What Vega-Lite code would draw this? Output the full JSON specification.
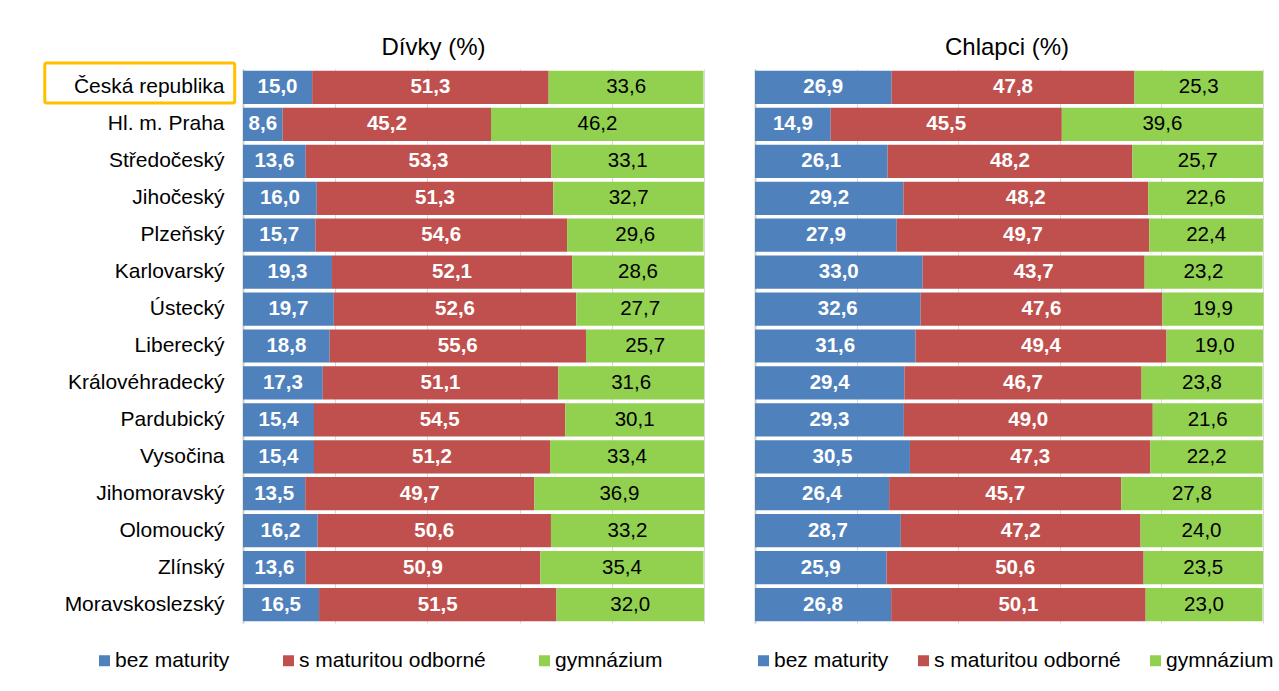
{
  "$schema": "https://vega.github.io/schema/vega-lite/v6.json",
  "padding": {"left": 43, "top": 35, "right": 5, "bottom": 5},
  "spacing": 48,
  "config": {
    "font": "Liberation Sans",
    "view": {"stroke": null},
    "locale": {"number": {"decimal": ",", "thousands": " ", "grouping": [3], "currency": ["", ""]}}
  },
  "datasets": {
    "t": [
      {"r": "Česká republika", "p": "D", "bez maturity": 15.0, "s maturitou odborné": 51.3, "gymnázium": 33.6},
      {"r": "Hl. m. Praha", "p": "D", "bez maturity": 8.6, "s maturitou odborné": 45.2, "gymnázium": 46.2},
      {"r": "Středočeský", "p": "D", "bez maturity": 13.6, "s maturitou odborné": 53.3, "gymnázium": 33.1},
      {"r": "Jihočeský", "p": "D", "bez maturity": 16.0, "s maturitou odborné": 51.3, "gymnázium": 32.7},
      {"r": "Plzeňský", "p": "D", "bez maturity": 15.7, "s maturitou odborné": 54.6, "gymnázium": 29.6},
      {"r": "Karlovarský", "p": "D", "bez maturity": 19.3, "s maturitou odborné": 52.1, "gymnázium": 28.6},
      {"r": "Ústecký", "p": "D", "bez maturity": 19.7, "s maturitou odborné": 52.6, "gymnázium": 27.7},
      {"r": "Liberecký", "p": "D", "bez maturity": 18.8, "s maturitou odborné": 55.6, "gymnázium": 25.7},
      {"r": "Královéhradecký", "p": "D", "bez maturity": 17.3, "s maturitou odborné": 51.1, "gymnázium": 31.6},
      {"r": "Pardubický", "p": "D", "bez maturity": 15.4, "s maturitou odborné": 54.5, "gymnázium": 30.1},
      {"r": "Vysočina", "p": "D", "bez maturity": 15.4, "s maturitou odborné": 51.2, "gymnázium": 33.4},
      {"r": "Jihomoravský", "p": "D", "bez maturity": 13.5, "s maturitou odborné": 49.7, "gymnázium": 36.9},
      {"r": "Olomoucký", "p": "D", "bez maturity": 16.2, "s maturitou odborné": 50.6, "gymnázium": 33.2},
      {"r": "Zlínský", "p": "D", "bez maturity": 13.6, "s maturitou odborné": 50.9, "gymnázium": 35.4},
      {"r": "Moravskoslezský", "p": "D", "bez maturity": 16.5, "s maturitou odborné": 51.5, "gymnázium": 32.0},
      {"r": "Česká republika", "p": "C", "bez maturity": 26.9, "s maturitou odborné": 47.8, "gymnázium": 25.3},
      {"r": "Hl. m. Praha", "p": "C", "bez maturity": 14.9, "s maturitou odborné": 45.5, "gymnázium": 39.6},
      {"r": "Středočeský", "p": "C", "bez maturity": 26.1, "s maturitou odborné": 48.2, "gymnázium": 25.7},
      {"r": "Jihočeský", "p": "C", "bez maturity": 29.2, "s maturitou odborné": 48.2, "gymnázium": 22.6},
      {"r": "Plzeňský", "p": "C", "bez maturity": 27.9, "s maturitou odborné": 49.7, "gymnázium": 22.4},
      {"r": "Karlovarský", "p": "C", "bez maturity": 33.0, "s maturitou odborné": 43.7, "gymnázium": 23.2},
      {"r": "Ústecký", "p": "C", "bez maturity": 32.6, "s maturitou odborné": 47.6, "gymnázium": 19.9},
      {"r": "Liberecký", "p": "C", "bez maturity": 31.6, "s maturitou odborné": 49.4, "gymnázium": 19.0},
      {"r": "Královéhradecký", "p": "C", "bez maturity": 29.4, "s maturitou odborné": 46.7, "gymnázium": 23.8},
      {"r": "Pardubický", "p": "C", "bez maturity": 29.3, "s maturitou odborné": 49.0, "gymnázium": 21.6},
      {"r": "Vysočina", "p": "C", "bez maturity": 30.5, "s maturitou odborné": 47.3, "gymnázium": 22.2},
      {"r": "Jihomoravský", "p": "C", "bez maturity": 26.4, "s maturitou odborné": 45.7, "gymnázium": 27.8},
      {"r": "Olomoucký", "p": "C", "bez maturity": 28.7, "s maturitou odborné": 47.2, "gymnázium": 24.0},
      {"r": "Zlínský", "p": "C", "bez maturity": 25.9, "s maturitou odborné": 50.6, "gymnázium": 23.5},
      {"r": "Moravskoslezský", "p": "C", "bez maturity": 26.8, "s maturitou odborné": 50.1, "gymnázium": 23.0}
    ]
  },
  "hconcat": [
    {
      "width": 461,
      "height": 554,
      "title": {"text": "Dívky (%)", "fontSize": 24, "fontWeight": "normal", "color": "black", "anchor": "middle", "dx": -40, "offset": -17.4, "baseline": "alphabetic"},
      "data": {"name": "t"},
      "transform": [
        {"filter": "datum.p == 'D'"},
        {"fold": ["bez maturity", "s maturitou odborné", "gymnázium"]},
        {"calculate": "indexof(['bez maturity','s maturitou odborné','gymnázium'], datum.key)", "as": "o"},
        {"stack": "value", "groupby": ["r"], "sort": [{"field": "o", "order": "ascending"}], "as": ["x0", "x1"]},
        {"calculate": "(datum.x0 + datum.x1) / 2", "as": "mid"}
      ],
      "encoding": {
        "y": {
          "field": "r", "type": "nominal",
          "sort": ["Česká republika", "Hl. m. Praha", "Středočeský", "Jihočeský", "Plzeňský", "Karlovarský", "Ústecký", "Liberecký", "Královéhradecký", "Pardubický", "Vysočina", "Jihomoravský", "Olomoucký", "Zlínský", "Moravskoslezský"],
          "scale": {"paddingInner": 0.1, "paddingOuter": 0.05},
          "axis": {"title": null, "labelFontSize": 21, "labelColor": "black", "labelPadding": 19, "ticks": false, "tickSize": 0, "domainColor": "#d0d0d0", "domainWidth": 2, "labelLimit": 400, "grid": false}
        }
      },
      "layer": [
        {
          "mark": {"type": "bar"},
          "encoding": {
            "x": {"field": "x0", "type": "quantitative", "scale": {"domain": [0, 100], "nice": false}, "axis": {"title": null, "labels": false, "ticks": false, "domain": false, "grid": true, "gridColor": "#d9d9d9", "gridWidth": 1, "values": [0, 20, 40, 60, 80, 100]}},
            "x2": {"field": "x1"},
            "color": {
              "field": "key", "type": "nominal",
              "scale": {"domain": ["bez maturity", "s maturitou odborné", "gymnázium"], "range": ["#4F81BD", "#C0504D", "#92D050"]},
              "legend": {"orient": "none", "legendX": -149, "legendY": 581, "direction": "horizontal", "title": null, "symbolType": "square", "symbolSize": 121, "symbolStrokeWidth": 0, "labelFontSize": 21, "labelColor": "black", "labelLimit": 0, "columnPadding": 48, "labelOffset": 0, "padding": 0}
            }
          }
        },
        {
          "transform": [{"filter": "datum.key != 'gymnázium'"}],
          "mark": {"type": "text", "fontSize": 20.5, "fontWeight": "bold", "fill": "white"},
          "encoding": {"x": {"field": "mid", "type": "quantitative"}, "text": {"field": "value", "type": "quantitative", "format": ".1f"}}
        },
        {
          "transform": [{"filter": "datum.key == 'gymnázium'"}],
          "mark": {"type": "text", "fontSize": 20.5, "fill": "black"},
          "encoding": {"x": {"field": "mid", "type": "quantitative"}, "text": {"field": "value", "type": "quantitative", "format": ".1f"}}
        },
        {
          "data": {"values": [{"r": "Česká republika"}]},
          "mark": {"type": "bar", "height": 40, "yOffset": -4.5, "fillOpacity": 0, "stroke": "#FFC000", "strokeWidth": 3, "cornerRadius": 2},
          "encoding": {"x": {"datum": -43, "type": "quantitative"}, "x2": {"datum": -1.8}}
        }
      ]
    },
    {
      "width": 508,
      "height": 554,
      "title": {"text": "Chlapci (%)", "fontSize": 24, "fontWeight": "normal", "color": "black", "anchor": "middle", "dx": -2, "offset": -10.4, "baseline": "alphabetic"},
      "data": {"name": "t"},
      "transform": [
        {"filter": "datum.p == 'C'"},
        {"fold": ["bez maturity", "s maturitou odborné", "gymnázium"]},
        {"calculate": "indexof(['bez maturity','s maturitou odborné','gymnázium'], datum.key)", "as": "o"},
        {"stack": "value", "groupby": ["r"], "sort": [{"field": "o", "order": "ascending"}], "as": ["x0", "x1"]},
        {"calculate": "(datum.x0 + datum.x1) / 2", "as": "mid"}
      ],
      "encoding": {
        "y": {
          "field": "r", "type": "nominal",
          "sort": ["Česká republika", "Hl. m. Praha", "Středočeský", "Jihočeský", "Plzeňský", "Karlovarský", "Ústecký", "Liberecký", "Královéhradecký", "Pardubický", "Vysočina", "Jihomoravský", "Olomoucký", "Zlínský", "Moravskoslezský"],
          "scale": {"paddingInner": 0.1, "paddingOuter": 0.05},
          "axis": {"title": null, "labels": false, "ticks": false, "tickSize": 0, "domainColor": "#d0d0d0", "domainWidth": 2, "grid": false}
        }
      },
      "layer": [
        {
          "mark": {"type": "bar"},
          "encoding": {
            "x": {"field": "x0", "type": "quantitative", "scale": {"domain": [0, 100], "nice": false}, "axis": {"title": null, "labels": false, "ticks": false, "domain": false, "grid": true, "gridColor": "#d9d9d9", "gridWidth": 1, "values": [0, 20, 40, 60, 80, 100]}},
            "x2": {"field": "x1"},
            "color": {
              "field": "key", "type": "nominal",
              "scale": {"domain": ["bez maturity", "s maturitou odborné", "gymnázium"], "range": ["#4F81BD", "#C0504D", "#92D050"]},
              "legend": {"orient": "none", "legendX": -2, "legendY": 581, "direction": "horizontal", "title": null, "symbolType": "square", "symbolSize": 121, "symbolStrokeWidth": 0, "labelFontSize": 21, "labelColor": "black", "labelLimit": 0, "columnPadding": 24, "labelOffset": 0, "padding": 0}
            }
          }
        },
        {
          "transform": [{"filter": "datum.key != 'gymnázium'"}],
          "mark": {"type": "text", "fontSize": 20.5, "fontWeight": "bold", "fill": "white"},
          "encoding": {"x": {"field": "mid", "type": "quantitative"}, "text": {"field": "value", "type": "quantitative", "format": ".1f"}}
        },
        {
          "transform": [{"filter": "datum.key == 'gymnázium'"}],
          "mark": {"type": "text", "fontSize": 20.5, "fill": "black"},
          "encoding": {"x": {"field": "mid", "type": "quantitative"}, "text": {"field": "value", "type": "quantitative", "format": ".1f"}}
        }
      ]
    }
  ],
  "resolve": {"legend": {"color": "independent"}}
}
